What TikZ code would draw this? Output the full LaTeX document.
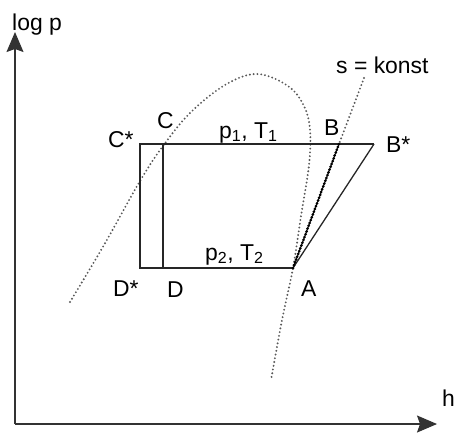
\documentclass[tikz,border=0pt]{standalone}
\usepackage{fontspec}
\setmainfont{Liberation Sans}
\usetikzlibrary{arrows.meta}
\tikzset{
  axis/.style={line width=1.1bp, draw=black!80, -{Stealth[length=20bp,width=17bp,inset=3bp]}},
  cycleline/.style={line width=1.3bp, draw=black!85},
  dotline/.style={line width=2.1bp, draw=black!65, dash pattern=on 0bp off 3.8bp, line cap=round},
  thickdots/.style={line width=3bp, draw=black, dash pattern=on 0bp off 3bp, line cap=round},
  lbl/.style={inner sep=0pt, anchor=base west, font=\fontsize{23}{27}\selectfont},
}
\begin{document}
\begin{tikzpicture}[x=1bp,y=-1bp]
\useasboundingbox (0,0) rectangle (459,432);
% coordinates
\coordinate (O) at (15,424);
\coordinate (Ytop) at (15,32);
\coordinate (Xend) at (437,424);
\coordinate (Cs) at (140,144);
\coordinate (C) at (163,144);
\coordinate (Ds) at (140,268);
\coordinate (D) at (163,268);
\coordinate (A) at (293,268);
\coordinate (B) at (339,144);
\coordinate (Bs) at (374,144);
\coordinate (sTop) at (364,78);
% axes
\draw[axis] (O) -- (Ytop);
\draw[axis] (O) -- (Xend);
% saturation dome
\draw[dotline] plot[smooth, tension=0.6] coordinates {(70,302) (104,245) (140,181) (163,146) (190,113) (225,85) (257,74) (288,86) (304,106) (310,130) (309,165) (301,216) (293,268) (282,320) (271,380)};
% isentrope
\draw[dotline] (sTop) -- (B);
% cycle
\draw[cycleline] (Cs) rectangle (D);
\draw[cycleline] (C) -- (Bs);
\draw[cycleline] (D) -- (A);
\draw[cycleline] (A) -- (Bs);
\draw[line width=1bp, draw=black!85] (A) -- (B);
\draw[thickdots] (A) -- (B);
% labels
\node[lbl] (lp) at (12,30) {log p};
\node[lbl] (lh) at (442,406) {h};
\node[lbl] (lCs) at (108,147) {C*};
\node[lbl] (lC) at (157,128) {C};
\node[lbl] (lpT1) at (219,138) {p\textsubscript{1}, T\textsubscript{1}};
\node[lbl] (lB) at (324,135) {B};
\node[lbl] (lBs) at (386,152) {B*};
\node[lbl] (ls) at (336,73) {s = konst};
\node[lbl] (lpT2) at (205,260) {p\textsubscript{2}, T\textsubscript{2}};
\node[lbl] (lDs) at (113,296) {D*};
\node[lbl] (lD) at (167,297) {D};
\node[lbl] (lA) at (301,296) {A};
\end{tikzpicture}
\end{document}
